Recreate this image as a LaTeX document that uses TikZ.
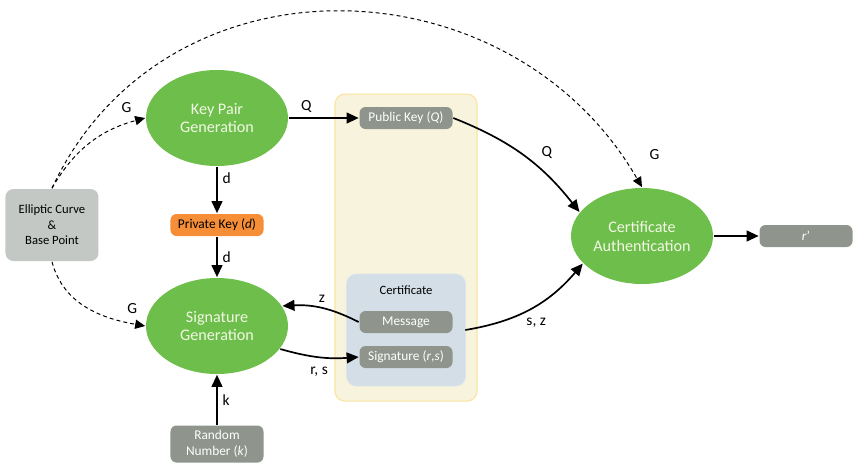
\documentclass[tikz,border=0pt]{standalone}
\usepackage{fontspec}
\setmainfont{Carlito}
\usetikzlibrary{arrows.meta,positioning,shapes,backgrounds}

\definecolor{procgreen}{HTML}{6DBE4B}
\definecolor{proctext}{HTML}{F2F8E4}
\definecolor{datagray}{HTML}{8F958C}
\definecolor{keyorange}{HTML}{F58E37}
\definecolor{curvegray}{HTML}{C3C8C5}
\definecolor{boxyellow}{HTML}{F7F3DC}
\definecolor{boxyellowline}{HTML}{FBE4A0}
\definecolor{certblue}{HTML}{D3DEE7}
\definecolor{certblueline}{HTML}{DCE5ED}

\begin{document}
\begin{tikzpicture}[->,>={Triangle[length=3mm,width=2.7mm]},auto,line width=1.2pt]
\tikzstyle{proc}=[ellipse,fill=procgreen,draw=none,text=proctext,minimum width=3.55cm,minimum height=2.4cm,inner sep=0pt,align=center,font=\fontsize{11.5}{13.5}\selectfont]
\tikzstyle{data}=[rectangle,rounded corners=0.15cm,fill=datagray,draw=none,text=white,minimum width=2.325cm,minimum height=0.55cm,inner sep=1pt,align=center,font=\fontsize{9.5}{11.5}\selectfont]
\tikzstyle{lbl}=[font=\fontsize{11}{13}\selectfont,text=black]
\tikzstyle{feed}=[>={Triangle[length=2.5mm,width=2.3mm]},->,dashed,line width=0.7pt,dash pattern=on 2.8pt off 2.2pt]

\useasboundingbox (-5.425,2.95) rectangle (16.1,-8.875);

\node[proc]         (A)                                  {Key Pair\\Generation};
\node[data]         (B) [below of=A,node distance=2.675cm,fill=keyorange,text=black] {Private Key (\textit{d})};
\node[proc]         (C) [below of=A,node distance=5.2cm]  {Signature\\Generation};
\node[data]         (D) [below of=C,node distance=2.95cm,minimum height=0.925cm] {Random\\Number (\textit{k})};
\node[data]         (E) [left of=B,node distance=4.125cm,fill=curvegray,text=black,minimum height=1.8cm,rounded corners=0.2cm,font=\fontsize{9}{11}\selectfont] {Elliptic Curve\\\&\\Base Point};
\node[data]         (F) [right of=A,node distance=4.725cm] {Public Key (\textit{Q})};
\node[data]         (H) [below of=F,node distance=5.1cm]  {Message};
\node[data]         (I) [below of=H,node distance=0.875cm] {Signature (\textit{r},\textit{s})};
\node               (L) [above of=H,node distance=0.8cm,font=\fontsize{9}{10}\selectfont] {Certificate};
\node[proc]         (J) [right of=F,node distance=5.9cm,yshift=-2.95cm] {Certificate\\Authentication};
\node[data]         (K) [right of=J,node distance=4.1cm]  {\textit{r}'};

\begin{scope}[on background layer]
\node (Y) [below of=F,node distance=3.24cm,rectangle,rounded corners=0.25cm,fill=boxyellow,draw=boxyellowline,line width=0.8pt,minimum width=3.55cm,minimum height=7.675cm] {};
\node (Z) [below of=H,node distance=0.2cm,rectangle,rounded corners=0.25cm,fill=certblue,draw=certblueline,line width=0.6pt,minimum width=2.975cm,minimum height=2.8cm] {};
\end{scope}

\path
(A) edge node[lbl,right,pos=0.25] {d} (B)
(B) edge node[lbl,right] {d} (C)
(D) edge node[lbl,right] {k} (C)
(A) edge node[lbl,above,pos=0.25] {Q} (F)
(F.east) edge[bend left=15] node[lbl,above right=1pt,pos=0.6] {Q} (J.159)
(H.west) edge[bend right=15] node[lbl,above] {z} (C.17)
(C.-20) edge[bend right=10] node[lbl,below=3pt] {r, s} (I.west)
([xshift=0.3cm,yshift=-0.2cm]H.east) edge[bend right=20] node[lbl,below=5pt,pos=0.55] {s, z} (J.-155)
(J) edge (K)
(E.north) edge[feed,out=60,in=195] node[lbl,above=4pt,pos=0.85] {G} (A.west)
(E.north) edge[feed,out=65,in=120,looseness=1.15] node[lbl,right=17pt,pos=0.95] {G} (J.north)
(E.south) edge[feed,out=-75,in=170] node[lbl,above=3pt,pos=0.9] {G} (C.west)
;
\end{tikzpicture}
\end{document}
